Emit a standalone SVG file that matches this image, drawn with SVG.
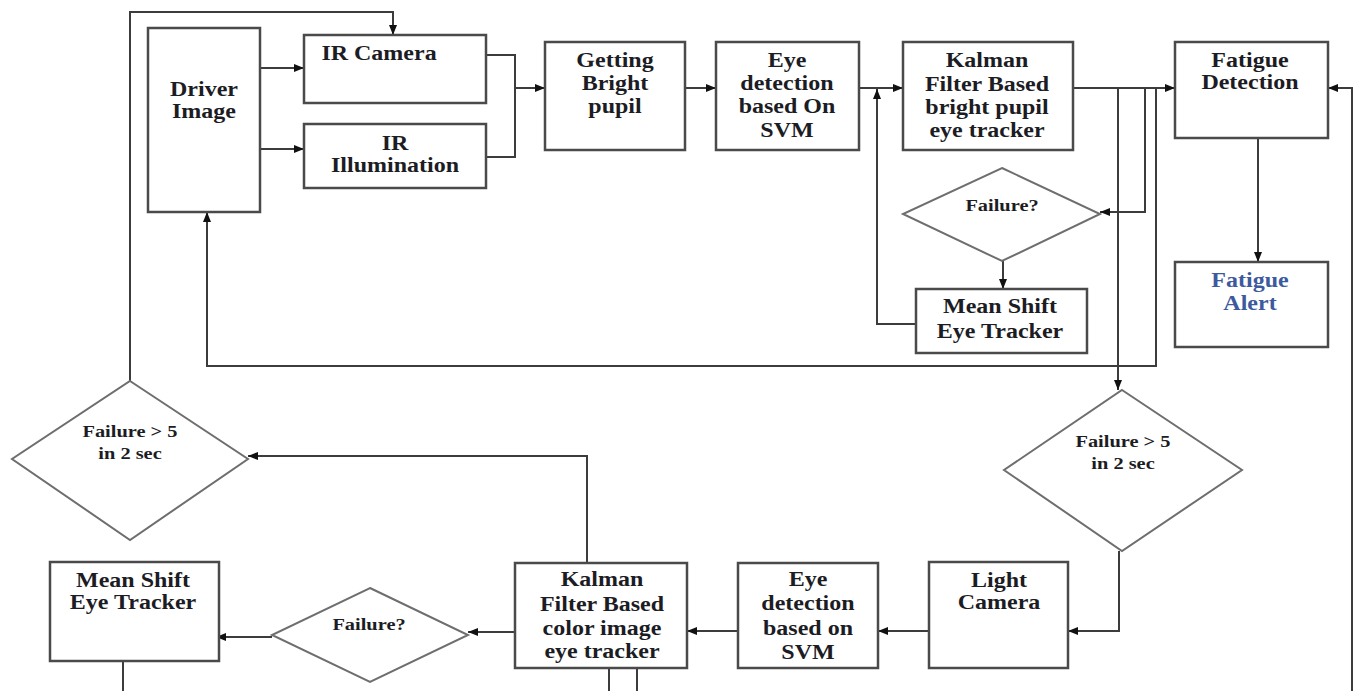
<svg xmlns="http://www.w3.org/2000/svg" width="1354" height="691" viewBox="0 0 1354 691">
<style>
.box{fill:#fff;stroke:#4a4a4a;stroke-width:2.5}
.dia{fill:#fff;stroke:#6e6e6e;stroke-width:2}
.ln{fill:none;stroke:#3c3c3c;stroke-width:2;stroke-linejoin:miter}
.t{font-family:"Liberation Serif","Times New Roman",serif;font-weight:bold;font-size:20px;fill:#1c1c24;text-anchor:middle}
.s{font-size:17px}
.blue{fill:#3d5a9e}
</style>
<defs>
<marker id="ah" viewBox="0 0 10 8" refX="10" refY="4" markerWidth="10" markerHeight="8" markerUnits="userSpaceOnUse" orient="auto">
<path d="M0,0 L10,4 L0,8 z" fill="#111"/>
</marker>
</defs>
<rect width="1354" height="691" fill="#fff"/>

<g id="connectors">
<path class="ln" d="M130,381 V12 H393 V35" marker-end="url(#ah)"/>
<path class="ln" d="M260,68 H304" marker-end="url(#ah)"/>
<path class="ln" d="M260,149 H304" marker-end="url(#ah)"/>
<path class="ln" d="M486,55 H515 V157 H486"/>
<path class="ln" d="M515,88 H545" marker-end="url(#ah)"/>
<path class="ln" d="M685,88 H716" marker-end="url(#ah)"/>
<path class="ln" d="M859,88 H903" marker-end="url(#ah)"/>
<path class="ln" d="M916,324 H877 V89" marker-end="url(#ah)"/>
<path class="ln" d="M1073,88 H1175" marker-end="url(#ah)"/>
<path class="ln" d="M1145,88 V212 H1100" marker-end="url(#ah)"/>
<path class="ln" d="M1003,261 V289" marker-end="url(#ah)"/>
<path class="ln" d="M1156,88 V366 H207 V212" marker-end="url(#ah)"/>
<path class="ln" d="M1118,88 V390" marker-end="url(#ah)"/>
<path class="ln" d="M1258,138 V262" marker-end="url(#ah)"/>
<path class="ln" d="M1352,691 V88 H1328" marker-end="url(#ah)"/>
<path class="ln" d="M1119,551 V631 H1068" marker-end="url(#ah)"/>
<path class="ln" d="M929,631 H878" marker-end="url(#ah)"/>
<path class="ln" d="M738,631 H687" marker-end="url(#ah)"/>
<path class="ln" d="M515,632 H468" marker-end="url(#ah)"/>
<path class="ln" d="M272,637 H216" marker-end="url(#ah)"/>
<path class="ln" d="M587,563 V456 H248" marker-end="url(#ah)"/>
<path class="ln" d="M123,661 V691"/>
<path class="ln" d="M609,668 V691"/>
<path class="ln" d="M637,668 V691"/>
</g>

<g id="driver-image">
<rect class="box" x="148" y="28" width="112" height="184"/>
<text class="t" transform="translate(204,0) scale(1.2,1)"><tspan x="0" y="96">Driver</tspan><tspan x="0" y="118">Image</tspan></text>
</g>
<g id="ir-camera">
<rect class="box" x="304" y="35" width="182" height="68"/>
<text class="t" transform="translate(379,0) scale(1.2,1)"><tspan x="0" y="60">IR Camera</tspan></text>
</g>
<g id="ir-illumination">
<rect class="box" x="304" y="124" width="182" height="64"/>
<text class="t" transform="translate(395,0) scale(1.2,1)"><tspan x="0" y="150">IR</tspan><tspan x="0" y="172">Illumination</tspan></text>
</g>
<g id="getting-bright-pupil">
<rect class="box" x="545" y="42" width="140" height="108"/>
<text class="t" transform="translate(615,0) scale(1.2,1)"><tspan x="0" y="67">Getting</tspan><tspan x="0" y="90">Bright</tspan><tspan x="0" y="113">pupil</tspan></text>
</g>
<g id="eye-detection-top">
<rect class="box" x="716" y="42" width="143" height="108"/>
<text class="t" transform="translate(787,0) scale(1.2,1)"><tspan x="0" y="67">Eye</tspan><tspan x="0" y="90">detection</tspan><tspan x="0" y="113">based On</tspan><tspan x="0" y="137">SVM</tspan></text>
</g>
<g id="kalman-bright">
<rect class="box" x="903" y="42" width="170" height="108"/>
<text class="t" transform="translate(987,0) scale(1.2,1)"><tspan x="0" y="67">Kalman</tspan><tspan x="0" y="91">Filter Based</tspan><tspan x="0" y="114">bright pupil</tspan><tspan x="0" y="137">eye tracker</tspan></text>
</g>
<g id="fatigue-detection">
<rect class="box" x="1175" y="42" width="153" height="96"/>
<text class="t" transform="translate(1250,0) scale(1.2,1)"><tspan x="0" y="67">Fatigue</tspan><tspan x="0" y="89">Detection</tspan></text>
</g>
<g id="fatigue-alert">
<rect class="box" x="1175" y="262" width="153" height="85"/>
<text class="t blue" transform="translate(1250,0) scale(1.2,1)"><tspan x="0" y="287">Fatigue</tspan><tspan x="0" y="310">Alert</tspan></text>
</g>
<g id="failure-top">
<polygon class="dia" points="1002,168 1100,214 1002,261 903,214"/>
<text class="t s" transform="translate(1002,0) scale(1.2,1)"><tspan x="0" y="211">Failure?</tspan></text>
</g>
<g id="mean-shift-top">
<rect class="box" x="916" y="289" width="171" height="64"/>
<text class="t" transform="translate(1000,0) scale(1.2,1)"><tspan x="0" y="313">Mean Shift</tspan><tspan x="0" y="338">Eye Tracker</tspan></text>
</g>
<g id="failure5-right">
<polygon class="dia" points="1122,390 1242,470 1122,551 1004,470"/>
<text class="t s" transform="translate(1123,0) scale(1.2,1)"><tspan x="0" y="447">Failure &gt; 5</tspan><tspan x="0" y="469">in 2 sec</tspan></text>
</g>
<g id="failure5-left">
<polygon class="dia" points="130,381 248,459 130,540 12,459"/>
<text class="t s" transform="translate(130,0) scale(1.2,1)"><tspan x="0" y="437">Failure &gt; 5</tspan><tspan x="0" y="459">in 2 sec</tspan></text>
</g>
<g id="light-camera">
<rect class="box" x="929" y="562" width="139" height="106"/>
<text class="t" transform="translate(999,0) scale(1.2,1)"><tspan x="0" y="587">Light</tspan><tspan x="0" y="609">Camera</tspan></text>
</g>
<g id="eye-detection-bottom">
<rect class="box" x="738" y="563" width="140" height="105"/>
<text class="t" transform="translate(808,0) scale(1.2,1)"><tspan x="0" y="586">Eye</tspan><tspan x="0" y="610">detection</tspan><tspan x="0" y="635">based on</tspan><tspan x="0" y="659">SVM</tspan></text>
</g>
<g id="kalman-color">
<rect class="box" x="515" y="563" width="172" height="105"/>
<text class="t" transform="translate(602,0) scale(1.2,1)"><tspan x="0" y="586">Kalman</tspan><tspan x="0" y="611">Filter Based</tspan><tspan x="0" y="635">color image</tspan><tspan x="0" y="658">eye tracker</tspan></text>
</g>
<g id="failure-bottom">
<polygon class="dia" points="370,588 468,635 370,682 272,635"/>
<text class="t s" transform="translate(369,0) scale(1.2,1)"><tspan x="0" y="630">Failure?</tspan></text>
</g>
<g id="mean-shift-bottom">
<rect class="box" x="50" y="562" width="169" height="99"/>
<text class="t" transform="translate(133,0) scale(1.2,1)"><tspan x="0" y="587">Mean Shift</tspan><tspan x="0" y="609">Eye Tracker</tspan></text>
</g>
</svg>
